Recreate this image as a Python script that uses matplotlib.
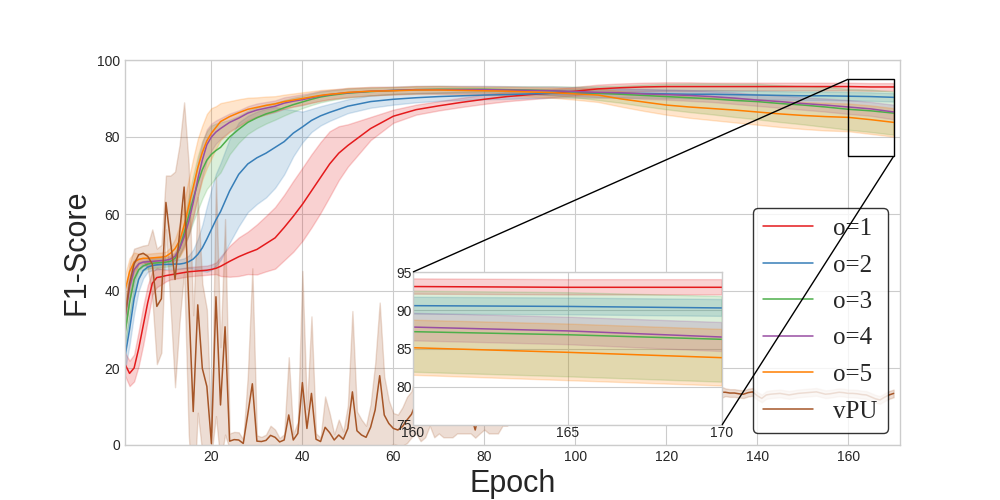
import matplotlib
matplotlib.use('Agg')
import matplotlib.pyplot as plt
from mpl_toolkits.axes_grid1.inset_locator import mark_inset
import numpy as np

plt.style.use('seaborn-v0_8-whitegrid')
plt.rcParams['font.family'] = ['Liberation Sans', 'DejaVu Sans']

# ---------------- data ----------------
epochs_o = list(range(1, 23)) + list(range(24, 51, 2)) + list(range(55, 171, 5))

o1_mean = [21, 18.6, 20, 25, 31, 37, 42, 43.5, 43.7, 44, 44.2, 44.4, 44.6, 44.8, 45, 45.1, 45.2, 45.3, 45.4, 45.6, 45.9, 46.4,
           47.7, 48.9, 49.9, 50.8, 52.3, 53.8, 56.5, 59.4, 62.5, 66, 69.5, 73, 75.8, 77.8,
           82.2, 85.4, 87.1, 88.1, 89.0, 89.8, 90.5, 91.0, 91.4, 91.9, 92.5, 92.8, 93.0, 93.1, 93.1, 93.1, 93.1, 93.1, 93.1, 93.1,
           93.1, 93.1, 93.0, 93.0]
o1_std = [3, 3.3, 3.5, 4.5, 5, 4.5, 3, 2.5, 2, 1.5, 1.2, 1.2, 1.2, 1.2, 1.2, 1.2, 1.2, 1.2, 1.2, 1.3, 1.5, 2.5,
          4, 5, 5.5, 6.5, 7.2, 8, 8.5, 9.2, 9.5, 9.5, 9.2, 8.5, 7, 5.5,
          3, 1.7, 1.3, 1.2, 1.2, 1.2, 1.2, 1.2, 1.1, 1.1, 1.1, 1.1, 1.1, 1.1, 1.1, 1.0, 1.0, 1.0, 1.0, 1.0, 1.0, 1.0, 1.0, 1.0]

o2_mean = [23, 30, 38, 43, 45.3, 46.2, 46.6, 46.8, 46.9, 46.9, 46.9, 47, 47, 47.2, 47.6, 48.3, 49.5, 51.2, 53.5, 56, 58.5, 60.6,
           66, 70.3, 73, 74.6, 75.8, 77.3, 78.8, 81, 82.6, 84.3, 85.5, 86.4, 87.2, 88,
           89.2, 89.8, 90.2, 90.5, 90.7, 90.9, 91.0, 91.2, 91.3, 91.3, 91.3, 91.3, 91.3, 91.2, 91.1, 91.1, 91.0, 90.9, 90.8, 90.7,
           90.7, 90.6, 90.5, 90.3]
o2_std = [3.5, 4, 4, 3, 2, 1.2, 1.2, 1.2, 1.2, 1.2, 1.2, 1.2, 1.2, 1.3, 1.6, 2.5, 4, 6, 8.5, 10.5, 12, 12.6,
          13.5, 13.5, 12.5, 12, 11.5, 10.5, 8.5, 6, 4, 3, 2.5, 2.2, 2, 1.8,
          1.6, 1.4, 1.2, 1.1, 1.1, 1.1, 1.1, 1.1, 1.1, 1.1, 1.1, 1.1, 1.1, 1.1, 1.1, 1.1, 1.1, 1.1, 1.1, 1.1, 1.1, 1.1, 1.1, 1.1]

o3_mean = [29, 37, 43, 45.5, 46.5, 47, 47.2, 47.3, 47.4, 47.5, 47.7, 48.5, 51, 55, 59.5, 64, 68, 71.5, 74, 75.5, 76.5, 77.3,
           80, 82, 83.8, 85, 86, 86.7, 87.6, 88.4, 89.1, 89.8, 90.4, 90.8, 91.1, 91.4,
           91.8, 92.1, 92.3, 92.4, 92.4, 92.4, 92.3, 92.2, 92.0, 91.7, 91.4, 91.1, 90.8, 90.5, 90.2, 89.9, 89.5, 89.2, 88.7, 88.3,
           87.8, 87.2, 86.8, 86.2]
o3_std = [3, 3.5, 3, 2, 1.2, 1.2, 1.2, 1.2, 1.2, 1.2, 1.2, 1.2, 2, 3, 5, 6, 7, 7.5, 7.5, 7.5, 7, 6.5,
          4.5, 3.5, 3, 2.7, 2.5, 2.2, 2, 1.8, 1.6, 1.5, 1.4, 1.3, 1.2, 1.2,
          1.0, 0.9, 0.9, 0.9, 0.8, 0.8, 0.9, 1.0, 1.2, 1.4, 1.8, 2.2, 2.8, 3.3, 3.7, 4.0, 4.3, 4.6, 4.8, 5.0, 5.2, 5.3, 5.5, 5.6]

o4_mean = [33, 41, 45.5, 47, 47.5, 47.6, 47.7, 47.8, 47.9, 48, 48.3, 49, 51, 54, 58, 63, 69, 74, 78, 80, 81.3, 82.2,
           83.8, 84.9, 86.2, 87, 87.5, 88, 88.8, 89.3, 89.7, 90.2, 90.7, 91, 91.3, 91.5,
           91.9, 92.1, 92.3, 92.3, 92.3, 92.3, 92.2, 92.1, 92.0, 91.8, 91.6, 91.5, 91.2, 91.0, 90.8, 90.5, 90.1, 89.6, 89.2, 88.7,
           88.3, 87.8, 87.3, 86.5]
o4_std = [3, 3, 2.5, 1.5, 1, 1, 1, 1, 1, 1, 1, 1, 1.5, 2.5, 3.5, 4, 4.5, 4.5, 4, 3.5, 3, 2.7,
          2.3, 2, 1.8, 1.7, 1.6, 1.5, 1.5, 1.4, 1.4, 1.3, 1.3, 1.2, 1.2, 1.2,
          1.1, 1.0, 1.0, 1.0, 1.0, 1.0, 1.0, 1.0, 1.1, 1.1, 1.2, 1.2, 1.3, 1.3, 1.4, 1.4, 1.5, 1.5, 1.6, 1.6, 1.7, 1.8, 1.8, 1.9]

o5_mean = [40, 45, 47.5, 48.2, 48.5, 48.5, 48.6, 48.7, 48.8, 49, 49.8, 51, 53, 57, 62, 67, 72, 76, 79, 81, 82.5, 84,
           85.3, 86.3, 87.2, 87.7, 88.2, 88.6, 89.2, 89.6, 90, 90.4, 90.8, 91.1, 91.3, 91.6,
           91.9, 92.0, 92.2, 92.2, 92.1, 92.0, 91.9, 91.7, 91.5, 91.2, 90.9, 89.9, 89.1, 88.3, 87.8, 87.4, 87.0, 86.5, 86.0, 85.6,
           85.3, 85.1, 84.5, 83.8]
o5_std = [4, 3.5, 2.5, 1.5, 1.2, 1.2, 1.2, 1.2, 1.2, 1.2, 1.5, 2.5, 4, 6, 7, 7.5, 7.5, 7, 7, 6.5, 5.5, 4.8,
          4, 3.5, 3, 2.6, 2.3, 2, 1.8, 1.7, 1.6, 1.5, 1.4, 1.3, 1.2, 1.2,
          1.1, 1.0, 1.0, 1.0, 1.0, 1.0, 1.1, 1.2, 1.3, 1.5, 1.8, 2.0, 2.3, 2.5, 2.8, 3.0, 3.2, 3.3, 3.4, 3.5, 3.6, 3.6, 3.7, 3.7]

epochs_v = list(range(1, 171))
vpu_mean = [33, 42, 47, 49.4, 49.8, 49, 47, 36, 38, 63, 53, 43, 55, 67, 38, 8.7, 36.4, 19.9, 15.2, 0.4,
            38.5, 10.4, 30.7, 1.0, 1.4, 1.3, 0.4, 8, 15.9, 1.0, 0.9, 1.2, 2.5, 2.0, 0.8, 1.3, 7.8, 1.3, 3.0, 16.2,
            4.3, 13.4, 1.5, 0.9, 4.6, 3.2, 1.3, 2.6, 1.5, 4.3, 13.8, 3.7, 2.6, 2.0, 4.6, 9.1, 18.0, 7.8, 5.6, 4.3,
            3.9, 4.8, 6.5, 8, 11, 6, 9, 14, 8, 10, 7, 6, 7, 12, 9, 10, 8, 3.9, 9, 11,
            8, 7, 8, 12, 10, 11, 13, 10, 12, 11, 13, 12, 14, 12, 13, 12, 14, 13, 12, 13,
            14, 13, 12, 13, 14, 13, 13, 12, 13, 14, 13, 13, 12, 13, 14, 13, 13, 12, 13, 14,
            13, 13, 13, 12, 13, 14, 13, 13, 12, 13, 13.5, 13.7, 13.7, 13.5, 13.5, 13.3, 13.2, 13.6, 13.8, 12.8,
            12.1, 13.0, 13.2, 13.3, 13.4, 13.2, 13.0, 13.2, 13.4, 13.5, 13.6, 13.7, 13.8, 13.5, 13.2, 13.3, 13.5, 13.7, 13.6, 13.4,
            13.4, 13.3, 13.1, 13.0, 12.5, 12.0, 11.7, 12.4, 13.0, 13.4]
vpu_std = [4, 5, 4, 2, 2, 3, 9, 15, 14, 7, 17, 28, 23, 22, 35, 25, 28, 22, 20, 3,
           31, 15, 28, 2, 2, 2, 1, 10, 30, 1.5, 1.2, 1.5, 2.5, 2, 1, 1.5, 15, 1.5, 3, 29,
           5, 20, 1.5, 1, 8, 5, 1.5, 4, 2, 6, 21, 5, 4, 3, 6, 12, 19, 10, 6, 4,
           4, 5, 6, 6, 8, 5, 7, 9, 6, 7, 5, 4, 5, 9, 6, 7, 5, 2, 6, 7,
           5, 4, 5, 7, 5, 5, 6, 4, 4, 3, 1.5, 1.5, 1.5, 1.5, 1.5, 1.5, 1.5, 1.5, 1.5, 1.5,
           1.5, 1.5, 1.5, 1.5, 1.5, 1.5, 1.5, 1.5, 1.5, 1.5, 1.5, 1.5, 1.5, 1.5, 1.5, 1.5, 1.5, 1.5, 1.5, 1.5,
           1.5, 1.5, 1.5, 1.5, 1.5, 1.5, 1.5, 1.5, 1.5, 1.5, 1.5, 1.5, 1.0, 1.0, 1.0, 1.0, 1.0, 1.0, 1.0, 1.0,
           1.0, 1.0, 1.0, 1.0, 1.0, 1.0, 1.0, 1.0, 1.0, 1.0, 1.0, 1.0, 1.0, 1.0, 1.0, 1.0, 1.0, 1.0, 1.0, 1.0,
           1.0, 1.0, 1.0, 1.0, 1.0, 1.0, 1.0, 1.0, 1.0, 1.0]

labels = ['o=1', 'o=2', 'o=3', 'o=4', 'o=5', 'vPU']
colors = ['#e41a1c', '#377eb8', '#4daf4a', '#984ea3', '#ff7f00', '#a65628']

series = [
    (epochs_o, o1_mean, o1_std),
    (epochs_o, o2_mean, o2_std),
    (epochs_o, o3_mean, o3_std),
    (epochs_o, o4_mean, o4_std),
    (epochs_o, o5_mean, o5_std),
    (epochs_v, vpu_mean, vpu_std),
]


def draw(a):
    for (x, m, s), lab, c in zip(series, labels, colors):
        x = np.asarray(x, float)
        m = np.asarray(m, float)
        s = np.asarray(s, float)
        a.fill_between(x, m - s, m + s, color=c, alpha=0.2)
        a.plot(x, m, color=c, lw=1.1, label=lab)


fig = plt.figure(figsize=(10, 5), dpi=100)
ax = fig.add_axes([0.125, 0.11, 0.775, 0.77])
draw(ax)
ax.set_xlim(1, 171.4)
ax.set_ylim(0, 100)
ax.set_xticks([20, 40, 60, 80, 100, 120, 140, 160])
ax.set_yticks([0, 20, 40, 60, 80, 100])
ax.tick_params(labelsize=10)
ax.set_xlabel('Epoch', fontsize=22)
ax.set_ylabel('F1-Score', fontsize=22)

leg = ax.legend(loc='lower right', prop={'family': 'Liberation Serif', 'size': 18},
                frameon=True, edgecolor='black', framealpha=0.8, fancybox=True,
                labelspacing=0.56)
leg.set_zorder(6)

axins = fig.add_axes([0.413, 0.15, 0.309, 0.306])
draw(axins)
axins.set_xlim(160, 170)
axins.set_ylim(75, 95)
axins.set_xticks([160, 165, 170])
axins.set_yticks([75, 80, 85, 90, 95])
axins.tick_params(labelsize=10, pad=1)
axins.set_facecolor('white')

pp, p1, p2 = mark_inset(ax, axins, loc1=2, loc2=4, fc='none', ec='black', lw=1)
for p in (pp, p1, p2):
    p.set_zorder(4)

fig.savefig('out.png', dpi=100)
